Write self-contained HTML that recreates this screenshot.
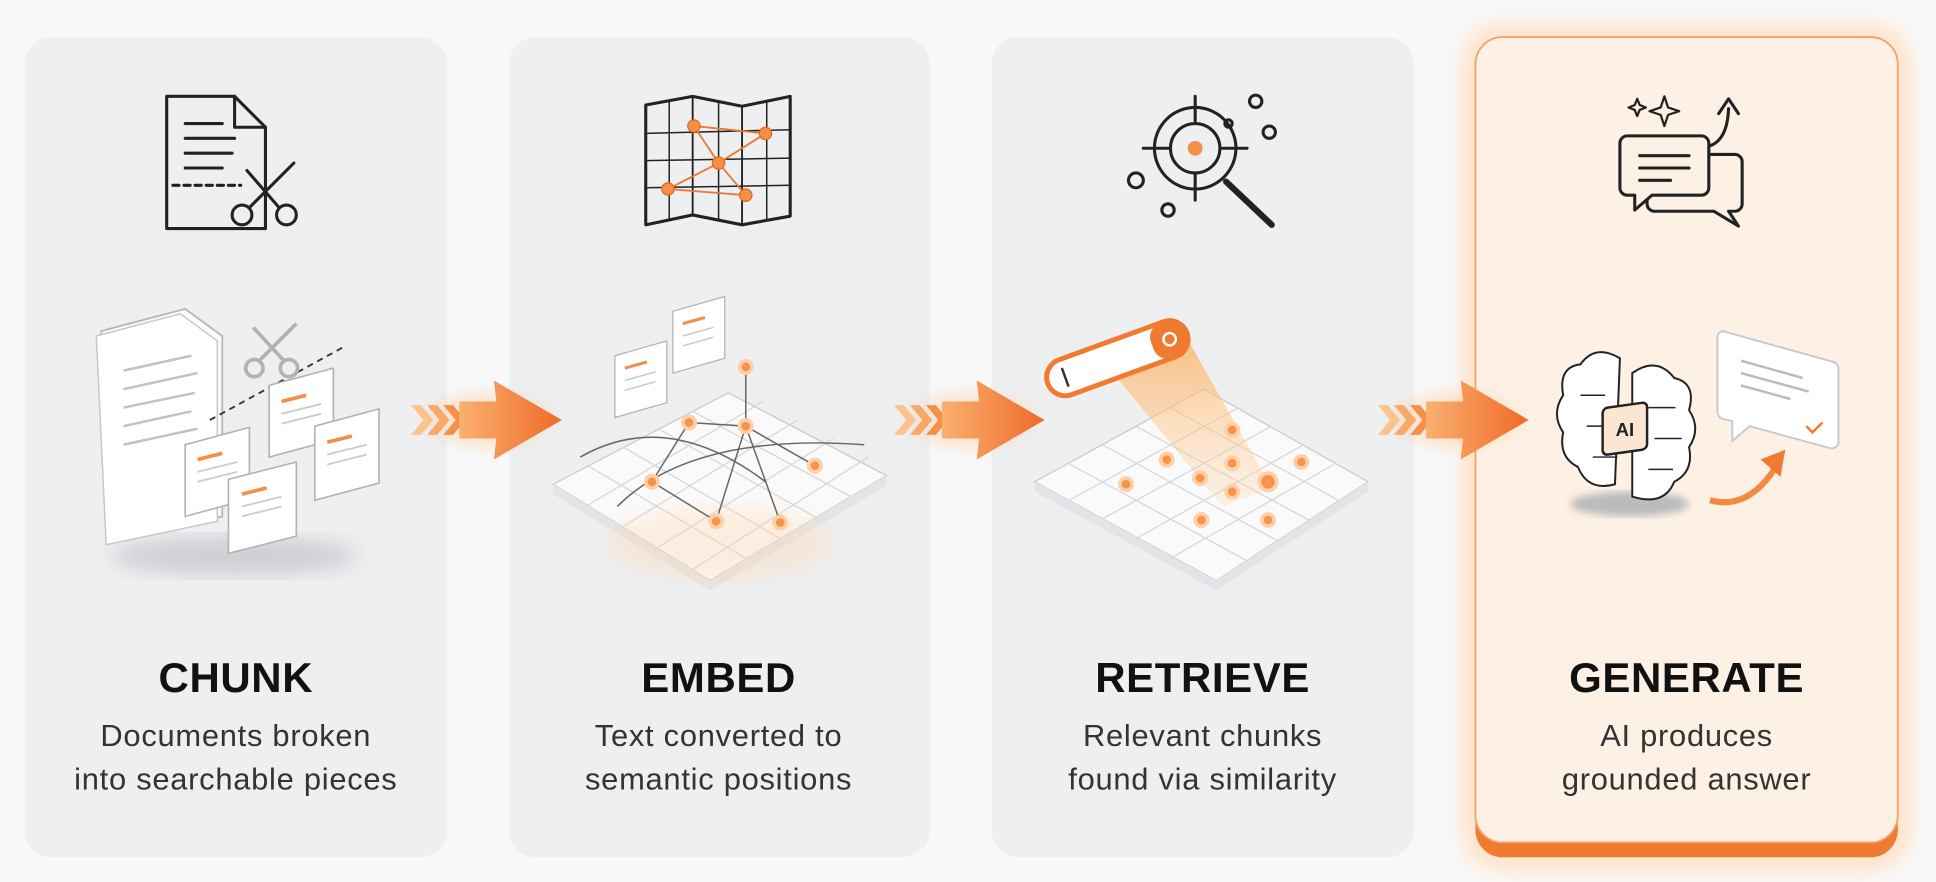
<!DOCTYPE html>
<html><head><meta charset="utf-8"><style>
html,body{margin:0;padding:0;background:#f8f8f8;}
svg{display:block}
text{font-family:"Liberation Sans",sans-serif;}
</style></head><body>
<svg width="1936" height="882" viewBox="0 0 1568 714" preserveAspectRatio="none" xmlns="http://www.w3.org/2000/svg">
<defs>
<radialGradient id="glow" cx="50%" cy="50%" r="50%"><stop offset="0" stop-color="#ffb070" stop-opacity=".55"/><stop offset="1" stop-color="#ffb070" stop-opacity="0"/></radialGradient>
<linearGradient id="arr" x1="0" x2="1"><stop offset="0" stop-color="#f9b070"/><stop offset="1" stop-color="#f06a28"/></linearGradient>
<linearGradient id="beam" x1="0" y1="0" x2="0" y2="1"><stop offset="0" stop-color="#ffb060" stop-opacity=".8"/><stop offset="1" stop-color="#ffd0a0" stop-opacity=".2"/></linearGradient>
<filter id="blur"><feGaussianBlur stdDeviation="8"/></filter>
<filter id="blur2"><feGaussianBlur stdDeviation="3"/></filter>
</defs>
<rect width="1568" height="714" fill="#f8f8f8"/>
<!-- panels -->
<rect x="20" y="30" width="342" height="664" rx="22" fill="#eeeff1"/>
<rect x="412" y="30" width="341" height="664" rx="22" fill="#eeeff1"/>
<rect x="803" y="30" width="342" height="664" rx="22" fill="#eeeff1"/>
<rect x="1185" y="20" width="362" height="684" rx="30" fill="#ffe2c8" filter="url(#blur)"/>
<rect x="1195" y="40" width="342" height="654" rx="22" fill="#f07a30"/>
<rect x="1195" y="30" width="342" height="652" rx="22" fill="#fdf0e4" stroke="#f2a468" stroke-width="1.5"/>

<!-- titles -->
<g font-weight="bold" font-size="34" fill="#111" text-anchor="middle" letter-spacing="0.5">
<text x="191" y="560">CHUNK</text><text x="582" y="560">EMBED</text><text x="974" y="560">RETRIEVE</text><text x="1366" y="560">GENERATE</text>
</g>
<g font-size="25" fill="#333" text-anchor="middle" letter-spacing="0.6">
<text x="191" y="604">Documents broken</text><text x="191" y="639">into searchable pieces</text>
<text x="582" y="604">Text converted to</text><text x="582" y="639">semantic positions</text>
<text x="974" y="604">Relevant chunks</text><text x="974" y="639">found via similarity</text>
<text x="1366" y="604">AI produces</text><text x="1366" y="639">grounded answer</text>
</g>

<!-- arrows -->
<g id="a1">
<ellipse cx="395" cy="340" rx="60" ry="30" fill="url(#glow)"/>
<path d="M333 328 l8 0 l10 12 l-10 12 l-8 0 l10 -12z" fill="#fbc48f"/>
<path d="M346 328 l8 0 l10 12 l-10 12 l-8 0 l10 -12z" fill="#f9a865"/>
<path d="M359 328 l8 0 l10 12 l-10 12 l-8 0 l10 -12z" fill="#f59048"/>
<path d="M372 325 L402 325 L400 308 L455 340 L400 372 L402 355 L372 355 Z" fill="url(#arr)"/>
</g>
<use href="#a1" x="391"/>
<use href="#a1" x="783"/>

<!-- Icon 1 chunk -->
<g fill="none" stroke="#222" stroke-width="2.5" stroke-linejoin="round" stroke-linecap="round">
<path d="M135 78 h55 l25 25 v82 h-80 z"/><path d="M190 78 v25 h25"/>
<path d="M150 100 h30 M150 112 h40 M150 124 h38 M150 136 h30"/>
<path d="M140 150 h55" stroke-dasharray="5 4"/>
<circle cx="196" cy="174" r="8"/><circle cx="232" cy="174" r="8"/>
<path d="M202 168 L238 132 M226 168 L200 138"/>
</g>
<!-- Icon 2 map -->
<g fill="none" stroke="#222" stroke-width="2.5" stroke-linejoin="round">
<path d="M523 85 l38 -7 l40 8 l39 -8 v97 l-39 7 l-40 -8 l-38 8 z"/>
<path d="M561 78 v97 M601 86 v97" stroke-width="1.5"/>
<path d="M523 108 l117 -3 M523 130 l117 -2 M523 152 l117 -2 M542 82 v97 M582 82 v97 M621 82 v97" stroke-width="1.2"/>
<path d="M562 102 L620 108 L582 132 L541 153 L604 158 L582 132 L562 102" stroke="#e57a3a" stroke-width="1.5"/>
</g>
<g fill="#f59048" stroke="#e06a20"><circle cx="562" cy="102" r="5"/><circle cx="620" cy="108" r="5"/><circle cx="582" cy="132" r="5"/><circle cx="541" cy="153" r="5"/><circle cx="604" cy="158" r="5"/></g>
<!-- Icon 3 -->
<g fill="none" stroke="#222" stroke-width="2.5" stroke-linecap="round">
<circle cx="968" cy="120" r="33"/><circle cx="968" cy="120" r="20"/>
<path d="M926 120 h20 M990 120 h20 M968 78 v20 M968 142 v20"/>
<path d="M993 147 L1030 182" stroke-width="5"/>
<circle cx="920" cy="146" r="6"/><circle cx="946" cy="170" r="5"/><circle cx="1017" cy="82" r="5"/><circle cx="1028" cy="107" r="5"/><circle cx="995" cy="100" r="3"/>
</g>
<circle cx="968" cy="120" r="6" fill="#f59048"/>
<!-- Icon 4 -->
<g fill="none" stroke="#222" stroke-width="2.5" stroke-linejoin="round" stroke-linecap="round">
<path d="M1340 125 h65 a6 6 0 0 1 6 6 v34 a6 6 0 0 1 -6 6 h-5 l8 12 l-20 -12 h-48 a6 6 0 0 1 -6 -6 v-34 a6 6 0 0 1 6 -6z"/>
<path d="M1318 110 h60 a6 6 0 0 1 6 6 v36 a6 6 0 0 1 -6 6 h-40 l-14 12 v-12 h-6 a6 6 0 0 1 -6 -6 v-36 a6 6 0 0 1 6 -6z" fill="#fdf0e4"/>
<path d="M1328 126 h40 M1328 136 h40 M1328 146 h25"/>
<path d="M1385 118 q14 -5 15 -30 M1392 92 l8 -12 l8 12"/>
<path d="M1348 78 l3 9 l9 3 l-9 3 l-3 9 l-3 -9 l-9 -3 l9 -3z M1326 80 l2 5 l5 2 l-5 2 l-2 5 l-2 -5 l-5 -2 l5 -2z" stroke-width="1.8"/>
</g>

<!-- Panel1 illustration -->
<ellipse cx="190" cy="450" rx="100" ry="16" fill="#cfd0d4" filter="url(#blur)"/>
<path d="M82 268 L150 250 L180 272 L180 418 L90 437 Z" fill="#fafafa" stroke="#b5b7bb" stroke-width="1.5"/>
<path d="M78 272 L146 254 L176 276 L176 422 L86 441 Z" fill="#fff" stroke="#c5c7cb" stroke-width="1.2"/>
<g stroke="#c0c2c6" stroke-width="2"><path d="M100 300 l55 -12 M100 315 l60 -13 M100 330 l58 -12 M100 345 l55 -12 M100 360 l60 -13"/></g>
<path d="M170 340 L280 280" stroke="#333" stroke-width="1.5" stroke-dasharray="5 4"/>
<g fill="none" stroke="#b0b2b6" stroke-width="3"><circle cx="206" cy="298" r="7"/><circle cx="234" cy="298" r="7"/><path d="M210 292 L240 262 M230 292 L205 265"/></g>
<g stroke="#b0b2b6" stroke-width="1.3" fill="#fff">
<path d="M218 312 l52 -14 v58 l-52 14z"/><path d="M150 360 l52 -14 v58 l-52 14z"/>
<path d="M255 345 l52 -14 v60 l-52 14z"/><path d="M185 388 l55 -14 v60 l-55 14z"/>
</g>
<g stroke="#f0904a" stroke-width="3"><path d="M228 325 l20 -5 M160 372 l20 -5 M265 358 l20 -5 M196 400 l20 -5"/></g>
<g stroke="#ccc" stroke-width="1.5"><path d="M228 335 l32 -8 M228 343 l32 -8 M160 382 l32 -8 M160 390 l32 -8 M265 368 l32 -8 M265 376 l32 -8 M196 410 l32 -8 M196 418 l32 -8"/></g>

<!-- Panel2 grid -->
<g>
<path d="M448 392 L590 318 L718 385 L575 470 Z" fill="#fafafa" stroke="#c8c9cc"/>
<path d="M448 392 v8 L575 478 L718 393 v-8 L575 470 Z" fill="#e3e4e7"/>
<g stroke="#d5d6d9" stroke-width="1">
<path d="M476 377 L604 452 M505 362 L632 436 M533 347 L661 419 M561 333 L689 402 M476 409 L618 325 M505 426 L646 340 M533 443 L675 355 M561 461 L703 370"/>
</g>
<ellipse cx="583" cy="440" rx="90" ry="30" fill="#ffd6ae" opacity=".35" filter="url(#blur)"/>
<g stroke="#666" stroke-width="1.2" fill="none"><path d="M604 297 L604 345 L558 342 L528 390 L580 422 L604 345 L632 423 M604 345 L660 377 M470 370 Q540 330 620 390 M500 410 Q560 350 700 360"/></g>
<g fill="#f7944c" stroke="#ffd0a8" stroke-width="3"><circle cx="604" cy="297" r="5"/><circle cx="604" cy="345" r="5"/><circle cx="558" cy="342" r="5"/><circle cx="528" cy="390" r="5"/><circle cx="580" cy="422" r="5"/><circle cx="632" cy="423" r="5"/><circle cx="660" cy="377" r="5"/></g>
<g stroke="#b0b2b6" fill="#fff"><path d="M498 288 l42 -12 v50 l-42 12z"/><path d="M545 252 l42 -12 v50 l-42 12z"/></g>
<g stroke="#f0904a" stroke-width="2.5"><path d="M506 298 l18 -5 M553 262 l18 -5"/></g>
<g stroke="#ccc" stroke-width="1.3"><path d="M506 308 l25 -7 M506 316 l25 -7 M553 272 l25 -7 M553 280 l25 -7"/></g>
</g>

<!-- Panel3 -->
<g>
<path d="M838 390 L975 315 L1108 390 L985 470 Z" fill="#fafafa" stroke="#c8c9cc"/>
<path d="M838 390 v8 L985 478 L1108 398 v-8 L985 470 Z" fill="#e3e4e7"/>
<g stroke="#d5d6d9"><path d="M865 375 L1010 454 M893 360 L1035 438 M920 345 L1060 421 M948 330 L1084 405 M866 405 L1003 330 M893 420 L1030 345 M920 436 L1056 360 M948 452 L1082 375"/></g>
<path d="M900 300 L958 268 L1030 395 L990 410 Z" fill="url(#beam)"/>
<g transform="rotate(-20 905 290)"><rect x="845" y="275" width="120" height="30" rx="15" fill="#fff" stroke="#f07a30" stroke-width="4"/><rect x="935" y="275" width="30" height="30" rx="12" fill="#f07a30"/><circle cx="950" cy="290" r="5" fill="none" stroke="#fff" stroke-width="2"/><path d="M860 282 v16" stroke="#333" stroke-width="2"/></g>
<g fill="#f7944c" stroke="#ffd0a8" stroke-width="3"><circle cx="998" cy="348" r="5"/><circle cx="945" cy="372" r="5"/><circle cx="972" cy="387" r="5"/><circle cx="998" cy="375" r="5"/><circle cx="1027" cy="390" r="7"/><circle cx="1054" cy="374" r="5"/><circle cx="912" cy="392" r="5"/><circle cx="998" cy="398" r="5"/><circle cx="973" cy="421" r="5"/><circle cx="1027" cy="421" r="5"/></g>
</g>

<!-- Panel4 -->
<ellipse cx="1320" cy="408" rx="48" ry="10" fill="#bbb" filter="url(#blur2)"/>
<g fill="#fff" stroke="#222" stroke-width="1.6">
<path d="M1312 290 q-20 -12 -32 5 q-18 2 -14 25 q-10 15 0 30 q-4 20 12 28 q8 20 30 14 z"/>
<path d="M1322 302 q20 -14 34 4 q18 4 12 26 q10 15 0 30 q4 20 -12 28 q-8 20 -34 12 z"/>
</g>
<g fill="none" stroke="#222" stroke-width="1.2"><path d="M1280 320 h20 M1285 345 h22 M1290 370 h20 M1335 330 h22 M1340 355 h22 M1335 380 h20"/></g>
<rect x="1298" y="328" width="36" height="38" rx="4" fill="#fbe6d2" stroke="#222" stroke-width="2" transform="skewY(-8) translate(0 185)"/>
<text x="1316" y="353" font-size="15" font-weight="bold" text-anchor="middle" fill="#222">AI</text>
<path d="M1395 268 l90 25 a6 6 0 0 1 4 6 v60 a6 6 0 0 1 -6 4 l-66 -18 l-14 12 v-16 l-8 -2 a6 6 0 0 1 -4 -6 v-60 a5 5 0 0 1 4 -5z" fill="#fff" stroke="#c8c9cc" stroke-width="1.5"/>
<g stroke="#bbb" stroke-width="2"><path d="M1410 292 l50 14 M1410 302 l55 15 M1410 312 l40 11"/></g>
<path d="M1463 345 l5 5 l8 -8" fill="none" stroke="#f07a30" stroke-width="2"/>
<path d="M1385 405 q30 8 52 -25" fill="none" stroke="#f28a40" stroke-width="5"/>
<path d="M1426 372 l20 -8 l-4 22z" fill="#f07a30"/>
</svg>
</body></html>
